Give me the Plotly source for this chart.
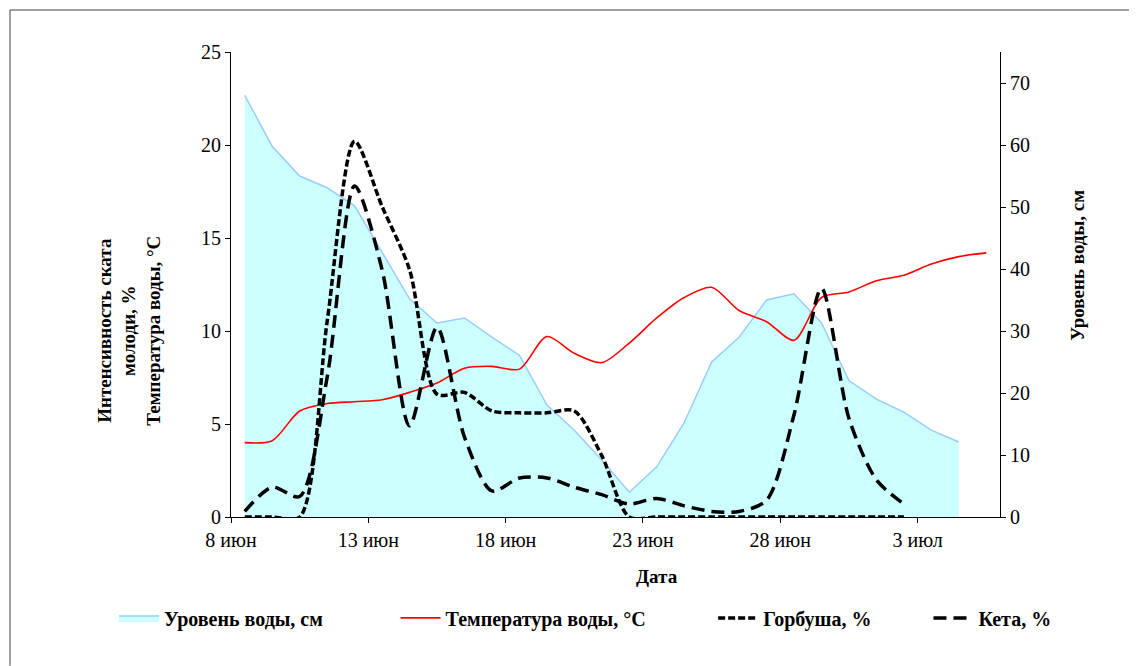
import pandas as pd
import plotly.graph_objects as go

# ---- data ----
start_date = "2023-06-08 12:00"
water_level = [68.0, 59.8, 55.0, 53.1, 50.2, 42.8, 35.2, 31.3, 32.1, 29.0, 26.1, 18.1, 14.0, 9.2,
               4.0, 8.1, 15.2, 25.0, 29.0, 35.0, 36.0, 31.3, 22.0, 19.0, 16.9, 14.0, 12.1]
temperature = [4.0, 4.1, 5.7, 6.1, 6.2, 6.3, 6.7, 7.2, 8.0, 8.1, 7.95, 9.7, 8.8, 8.3,
               9.35, 10.7, 11.8, 12.35, 11.1, 10.5, 9.5, 11.8, 12.1, 12.7, 13.0, 13.6, 14.0, 14.2]
gorbusha = [0, 0, 0, 10.5, 20.2, 16.7, 13.3, 6.6, 6.7, 5.7, 5.6, 5.6, 5.7, 3.3,
            0, 0, 0, 0, 0, 0, 0, 0, 0, 0, 0]
keta = [0.3, 1.6, 1.1, 7.5, 17.8, 13.3, 4.9, 10.2, 4.3, 1.4, 2.1, 2.1, 1.6, 1.2,
        0.7, 1.0, 0.6, 0.3, 0.3, 0.9, 5.5, 12.3, 5.3, 2.0, 0.7]
tick_dates = ["2023-06-08", "2023-06-13", "2023-06-18", "2023-06-23", "2023-06-28", "2023-07-03"]
tick_labels = ["8 июн", "13 июн", "18 июн", "23 июн", "28 июн", "3 июл"]
x_range = ["2023-06-08", "2023-07-06"]

dates_wl = pd.date_range(start_date, periods=len(water_level), freq="D")
dates_t = pd.date_range(start_date, periods=len(temperature), freq="D")
dates_g = pd.date_range(start_date, periods=len(gorbusha), freq="D")
dates_k = pd.date_range(start_date, periods=len(keta), freq="D")

SERIF = "Liberation Serif, Times New Roman, serif"

fig = go.Figure()
fig.add_trace(go.Scatter(
    x=dates_wl, y=water_level, name="Уровень воды, см", mode="lines",
    fill="tozeroy", fillcolor="#CCFFFF", line=dict(color="#99CCFF", width=1.5),
    yaxis="y", legend="legend"))
fig.add_trace(go.Scatter(
    x=dates_t, y=temperature, name="Температура воды, °С", mode="lines",
    line=dict(color="#FF0000", width=1.6, shape="spline", smoothing=0.8),
    yaxis="y2", legend="legend2"))
fig.add_trace(go.Scatter(
    x=dates_g, y=gorbusha, name="Горбуша, %", mode="lines",
    line=dict(color="#000000", width=3.5, dash="7px,3px", shape="spline", smoothing=0.8),
    yaxis="y2", legend="legend3"))
fig.add_trace(go.Scatter(
    x=dates_k, y=keta, name="Кета, %", mode="lines",
    line=dict(color="#000000", width=3.5, dash="13px,7px", shape="spline", smoothing=0.8),
    yaxis="y2", legend="legend4"))

axis_common = dict(showgrid=False, zeroline=False, showline=True, linecolor="#000000",
                   linewidth=1, ticks="outside", ticklen=5, tickcolor="#000000",
                   tickfont=dict(family=SERIF, size=20, color="#000000"))


def legend_at(xpos):
    return dict(orientation="h", x=xpos, xanchor="left", y=-0.217, yanchor="middle",
                font=dict(family=SERIF, size=20, color="#000000", weight="bold"),
                itemwidth=40, bgcolor="rgba(0,0,0,0)")


fig.update_layout(
    width=1137, height=666,
    margin=dict(l=223, r=145, t=44, b=157, autoexpand=False),
    paper_bgcolor="white", plot_bgcolor="white",
    showlegend=True,
    xaxis=dict(type="date", range=x_range, tickvals=tick_dates, ticktext=tick_labels,
               **axis_common),
    yaxis=dict(range=[0, 75], tickvals=[0, 10, 20, 30, 40, 50, 60, 70], side="right",
               **axis_common),
    yaxis2=dict(range=[0, 25], tickvals=[0, 5, 10, 15, 20, 25], side="left",
                overlaying="y", **axis_common),
    legend=legend_at(-0.152),
    legend2=legend_at(0.214),
    legend3=legend_at(0.627),
    legend4=legend_at(0.907),
    font=dict(family=SERIF, color="#000000"),
)

fig.add_annotation(text="<b>Дата</b>", xref="paper", yref="paper", x=0.554, y=-0.129,
                   xanchor="center", yanchor="middle",
                   showarrow=False, font=dict(family=SERIF, size=19, color="#000000"))
fig.add_annotation(text="<b>Интенсивность ската<br>молоди, %<br>Температура воды, °С</b>",
                   xref="paper", yref="paper", x=-0.133, y=0.40, textangle=-90,
                   xanchor="center", yanchor="middle",
                   showarrow=False, font=dict(family=SERIF, size=19, color="#000000"))
fig.add_annotation(text="<b>Уровень воды, см</b>", xref="paper", yref="paper",
                   x=1.101, y=0.542, textangle=-90, showarrow=False,
                   xanchor="center", yanchor="middle",
                   font=dict(family=SERIF, size=19, color="#000000"))

# chart frame (left and top edges visible in the reference)
fig.add_shape(type="line", xref="paper", yref="paper", x0=-0.2874, x1=-0.2874, y0=-0.32, y1=1.0903,
              line=dict(color="#404040", width=1))
fig.add_shape(type="line", xref="paper", yref="paper", x0=-0.2874, x1=1.2, y0=1.0903, y1=1.0903,
              line=dict(color="#404040", width=1))

fig.write_html("out.html")
